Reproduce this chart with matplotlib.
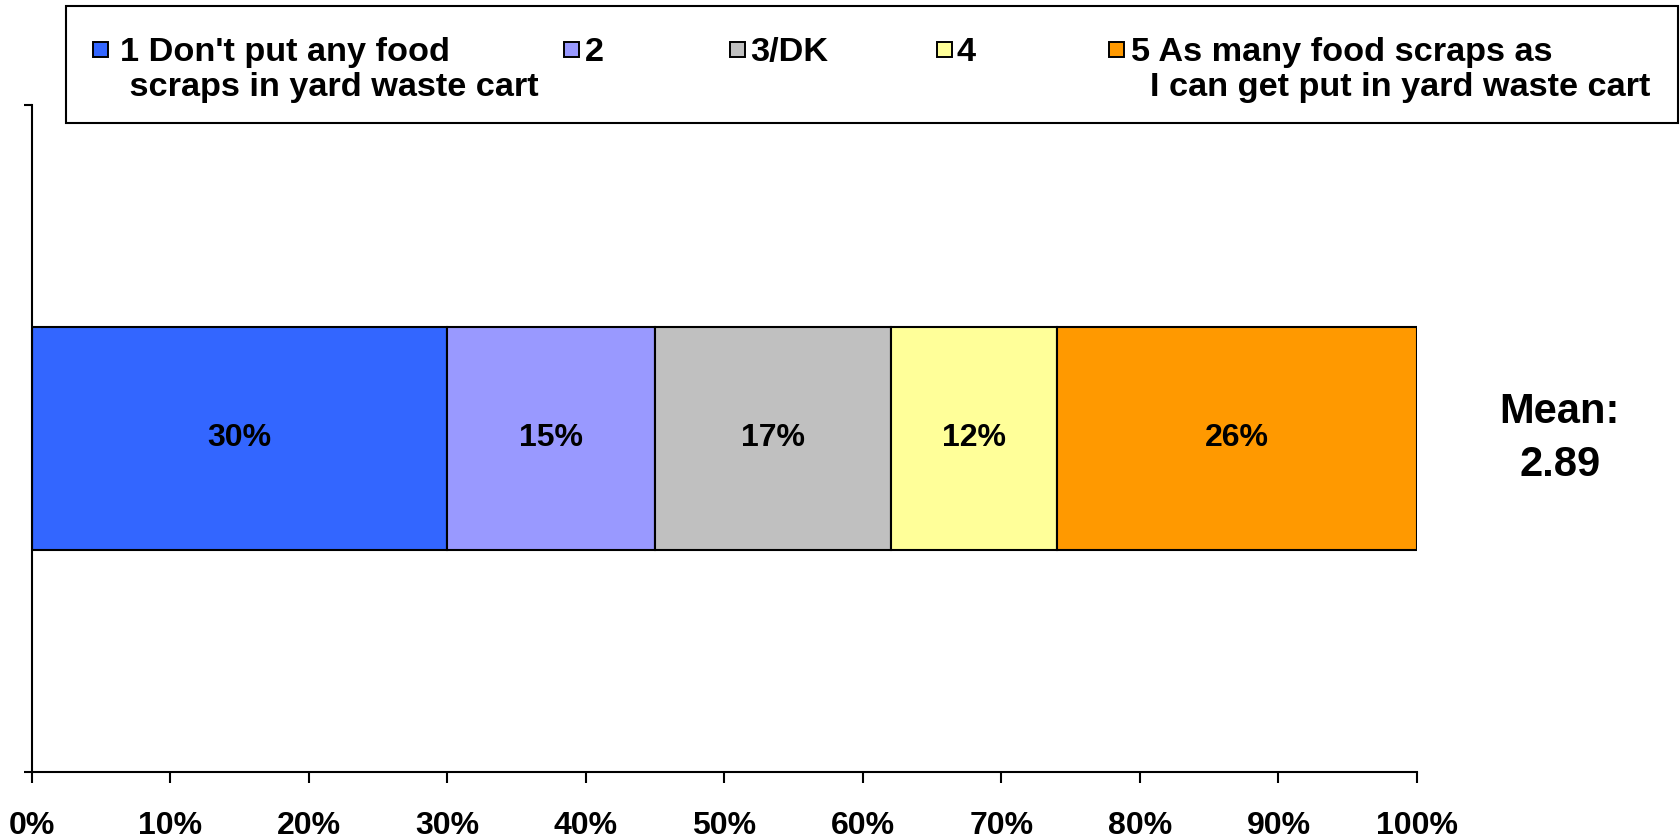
import numpy as np
import matplotlib.pyplot as plt
from matplotlib.patches import Rectangle

plt.rcParams['font.family'] = ['Liberation Sans', 'DejaVu Sans']
plt.rcParams['font.weight'] = 'bold'

# data
categories = ["1 Don't put any food\n scraps in yard waste cart", "2", "3/DK", "4",
              "5 As many food scraps as\n  I can get put in yard waste cart"]
values = [30, 15, 17, 12, 26]
colors = ["#3366FF", "#9999FF", "#C0C0C0", "#FFFF99", "#FF9900"]
mean_value = 2.89
xticks = np.arange(0, 101, 10)

W, H = 1681, 840
fig = plt.figure(figsize=(W / 100, H / 100), dpi=100)
ax = fig.add_axes([32 / W, 1 - 772 / H, (1417 - 32) / W, (772 - 105) / H])

left = 0
for v, c in zip(values, colors):
    ax.barh(0.5, v, left=left, height=1 / 3, color=c, edgecolor="black", linewidth=1.5)
    ax.text(left + v / 2, 0.5, f"{v}%", ha="center", va="center", fontsize=23, fontweight="bold")
    left += v

ax.set_xlim(0, 100)
ax.set_ylim(0, 1)
ax.set_xticks(xticks)
ax.set_xticklabels([f"{t}%" for t in xticks], fontsize=23, fontweight="bold")
ax.set_yticks([0, 1])
ax.set_yticklabels([])
ax.tick_params(axis="x", length=8, width=1.5, pad=20)
ax.tick_params(axis="y", length=6, width=1.5)
for s in ["top", "right"]:
    ax.spines[s].set_visible(False)
for s in ["left", "bottom"]:
    ax.spines[s].set_linewidth(1.5)

ax.text(1.103, 0.5, f"Mean:\n{mean_value:.2f}", transform=ax.transAxes, ha="center", va="center",
        fontsize=30, fontweight="bold", linespacing=1.45)

# legend drawn by hand to match the spacing of the original
fig.patches.append(Rectangle((66 / W, 1 - 123 / H), (1678 - 66) / W, (123 - 6) / H,
                             transform=fig.transFigure, facecolor="white", edgecolor="black",
                             linewidth=1.5))
handle_x = [100, 571, 737, 944, 1116]
text_x = [120, 585, 750, 957, 1131]
for hx, tx, lab, c in zip(handle_x, text_x, categories, colors):
    fig.patches.append(Rectangle(((hx - 7) / W, 1 - 57 / H), 15 / W, 15 / H,
                                 transform=fig.transFigure, facecolor=c, edgecolor="black",
                                 linewidth=1.4))
    fig.text(tx / W, 1 - 37 / H, lab, ha="left", va="top", fontsize=24.7,
             fontweight="bold", linespacing=1.18)

fig.savefig("out.png", dpi=100)
